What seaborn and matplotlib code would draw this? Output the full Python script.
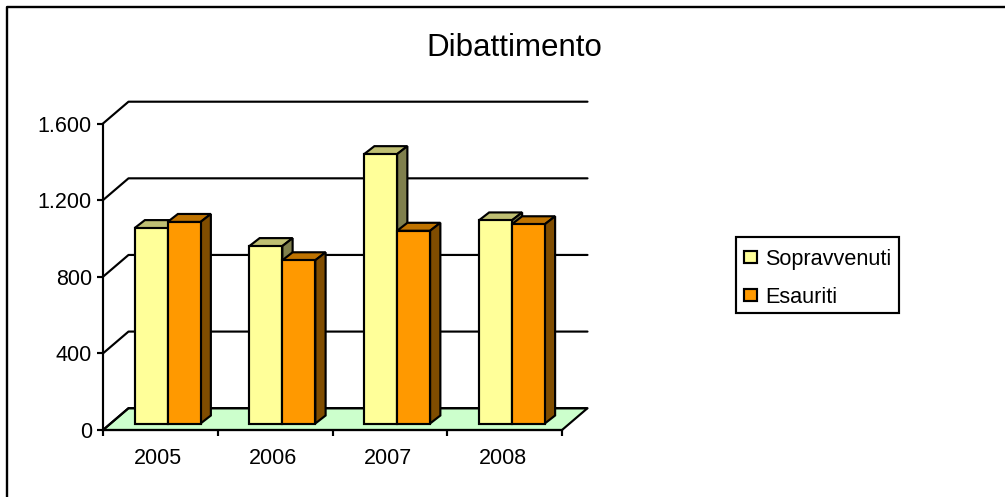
import numpy as np
import pandas as pd
import matplotlib
matplotlib.use("Agg")
import matplotlib.pyplot as plt
from matplotlib.lines import Line2D
from matplotlib.patches import Polygon, Rectangle
from matplotlib.transforms import Affine2D
import seaborn as sns

years = ["2005", "2006", "2007", "2008"]
sopravvenuti = [1020, 926, 1406, 1060]
esauriti = [1052, 852, 1006, 1040]
series_names = ["Sopravvenuti", "Esauriti"]
y_ticks = [0, 400, 800, 1200, 1600]
y_tick_labels = ["0", "400", "800", "1.200", "1.600"]

WIDTH, HEIGHT = 1005, 497
YELLOW, ORANGE = "#FFFF99", "#FF9900"
YELLOW_TOP, ORANGE_TOP = "#BFBF73", "#BF7300"
YELLOW_SIDE, ORANGE_SIDE = "#80804D", "#804D00"
FLOOR = "#CCFFCC"
LW = 1.55

sns.set_theme(style="white")
plt.rcParams["font.family"] = ["Liberation Sans", "DejaVu Sans"]

fig = plt.figure(figsize=(WIDTH / 100, HEIGHT / 100), dpi=100, facecolor="white")

# Plot box in pixels: front axes run from x=103 to 562 and y=430 to 123.5
left, right, bottom_px, top_px = 103, 562, 430, 123.5
ax = fig.add_axes([left / WIDTH, 1 - bottom_px / HEIGHT,
                   (right - left) / WIDTH, (bottom_px - top_px) / HEIGHT])

table = pd.DataFrame({
    "anno": years * 2,
    "valore": sopravvenuti + esauriti,
    "serie": [series_names[0]] * 4 + [series_names[1]] * 4,
})
sns.barplot(data=table, x="anno", y="valore", hue="serie", order=years,
            hue_order=series_names, palette=[YELLOW, ORANGE], width=0.575,
            gap=0, saturation=1, edgecolor="black", linewidth=LW,
            legend=False, ax=ax)
ax.set_xlim(-0.5, 3.5)
ax.set_ylim(0, 1600)

px_x = 1 / ((right - left) / 4)
px_y = 1600 / (bottom_px - top_px)

# Oblique projection offsets, in pixels
wall_dx, wall_dy = 25.5, 21.8
bar_dx, bar_dy = 10.3, 8.0
base_dx, base_dy = 7.2, 6.5

# Floor and back-wall gridlines
x0, x1 = -0.5, 3.5
wx, wy = wall_dx * px_x, wall_dy * px_y
ax.add_patch(Polygon([(x0, 0), (x0 + wx, wy), (x1 + wx, wy), (x1, 0)], closed=True,
                     facecolor=FLOOR, edgecolor="black", linewidth=LW,
                     clip_on=False, zorder=1))
for tick in y_ticks:
    ax.add_line(Line2D([x0, x0 + wx, x1 + wx], [tick, tick + wy, tick + wy],
                       color="black", linewidth=LW, clip_on=False, zorder=1.2))

# Bar fronts come from the barplot; shift them onto the raised base line
shift = Affine2D().translate(base_dx, base_dy)
for patch in list(ax.patches):
    if not isinstance(patch, Rectangle):
        continue
    patch.set_transform(ax.transData + shift)
    patch.set_clip_on(False)
    patch.set_zorder(3 if patch.get_facecolor()[2] > 0.3 else 5)
    patch.set_joinstyle("miter")

# Top and side faces of each bar
bx, by = bar_dx * px_x, bar_dy * px_y
ox, oy = base_dx * px_x, base_dy * px_y
faces = [(sopravvenuti, -1, YELLOW_TOP, YELLOW_SIDE, 2.5),
         (esauriti, 0, ORANGE_TOP, ORANGE_SIDE, 4)]
for values, offset, top_col, side_col, z in faces:
    for pos, val in enumerate(values):
        xa = pos + ox + offset * 0.2875
        xb = xa + 0.2875
        ya, yb = oy, val + oy
        ax.add_patch(Polygon([(xa, yb), (xa + bx, yb + by), (xb + bx, yb + by), (xb, yb)],
                             closed=True, facecolor=top_col, edgecolor="black",
                             linewidth=LW, clip_on=False, zorder=z))
        ax.add_patch(Polygon([(xb, ya), (xb + bx, ya + by), (xb + bx, yb + by), (xb, yb)],
                             closed=True, facecolor=side_col, edgecolor="black",
                             linewidth=LW, clip_on=False, zorder=z))

# Axes: only the left and bottom spines remain
sns.despine(ax=ax, top=True, right=True)
for side in ("left", "bottom"):
    ax.spines[side].set_linewidth(LW)
    ax.spines[side].set_color("black")
    ax.spines[side].set_zorder(6)
ax.set_xlabel("")
ax.set_ylabel("")
ax.set_yticks(y_ticks, y_tick_labels)
ax.set_xticks(np.arange(-0.5, 4.0, 1), minor=False)
ax.set_xticklabels([])
ax.tick_params(axis="both", which="major", direction="out", length=4.0, width=LW,
               color="black", left=True, bottom=True, labelsize=15.5, labelcolor="black", pad=4)
for pos, year in enumerate(years):
    ax.annotate(year, xy=(pos, 0), xycoords=("data", "axes fraction"), xytext=(-2, -18),
                textcoords="offset pixels", ha="center", va="top", fontsize=15.5, color="black")

# Chart title, outer frame and legend in figure pixels
fig.text(514 / WIDTH, 1 - 47.5 / HEIGHT, "Dibattimento", ha="center", va="center",
         fontsize=22.5, color="black")
to_fig = Affine2D().scale(1 / WIDTH, -1 / HEIGHT).translate(0, 1) + fig.transFigure
fig.add_artist(Line2D([6.5, 6.5, 1005], [497, 6.5, 6.5], color="black", linewidth=LW * 1.1,
                      transform=to_fig))

fig.add_artist(Rectangle((736, 237), 163, 76, facecolor="white", edgecolor="black",
                         linewidth=LW, transform=to_fig))
for name, colour, cy in zip(series_names, [YELLOW, ORANGE], [257, 295]):
    fig.add_artist(Rectangle((744, cy - 6), 13, 12, facecolor=colour, edgecolor="black",
                             linewidth=LW, transform=to_fig))
    fig.text(765 / WIDTH, 1 - cy / HEIGHT, name, ha="left", va="center_baseline",
             fontsize=15.6, color="black")

fig.savefig("out.png", dpi=100)
